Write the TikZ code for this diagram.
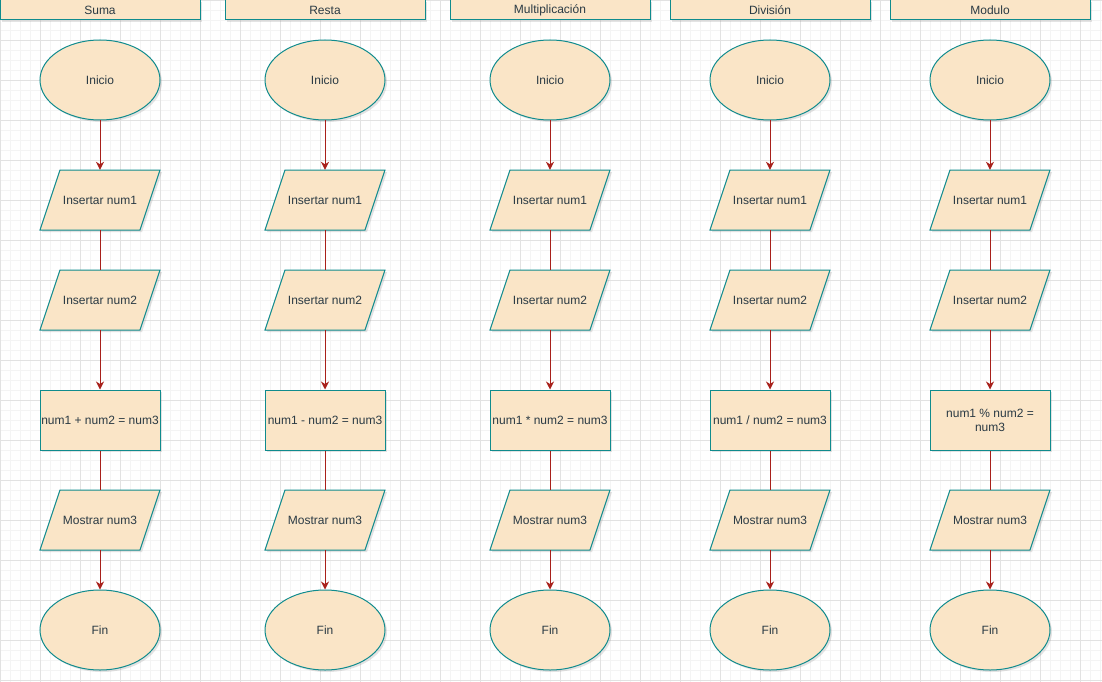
\documentclass[tikz,border=0pt]{standalone}
\usepackage{fontspec}
\setmainfont{Liberation Sans}
\usetikzlibrary{arrows.meta,shadows,shapes.geometric}
\definecolor{fillc}{HTML}{FAE5C7}
\definecolor{strokec}{HTML}{0F8B8D}
\definecolor{arrowc}{HTML}{A8201A}
\definecolor{textc}{HTML}{2A3A44}
\definecolor{gridminor}{HTML}{F4F4F4}
\definecolor{gridmajor}{HTML}{E2E2E2}
\tikzset{
  shapebase/.style={draw=strokec, fill=fillc, line width=1pt,
    drop shadow={shadow xshift=2pt, shadow yshift=-2pt, opacity=0.22, fill=gray}},
  txt/.style={text=textc, font=\fontsize{12}{14}\selectfont, inner sep=0pt, align=center},
  header/.style={shapebase, txt, rectangle, minimum width=200pt, minimum height=20pt},
  term/.style={shapebase, txt, ellipse, minimum width=120pt, minimum height=80pt},
  proc/.style={shapebase, txt, rectangle, minimum width=120pt, minimum height=60pt},
  iolabel/.style={txt, rectangle, minimum width=120pt, minimum height=60pt},
  link/.style={draw=arrowc, line width=1pt},
  arrow/.style={link, -{Stealth[length=8pt,width=8pt,inset=2.5pt]}}
}
\newcommand\ioshape[4]{%
  \path[shapebase] (#2-40,#3-30) -- (#2+60,#3-30) -- (#2+40,#3+30) -- (#2-60,#3+30) -- cycle;
  \node[iolabel] (#1) at (#2,#3) {#4};}
\begin{document}
\begin{tikzpicture}[x=1pt,y=-1pt]
\useasboundingbox (0,0) rectangle (1102,682);
\fill[white] (0,0) rectangle (1102,682);
\foreach \g in {0,10,...,1100} \draw[gridminor, line width=1pt] (\g+0.5,0) -- (\g+0.5,682);
\foreach \g in {0,10,...,680} \draw[gridminor, line width=1pt] (0,\g+0.5) -- (1102,\g+0.5);
\foreach \g in {0,40,...,1100} \draw[gridmajor, line width=1pt] (\g+0.5,0) -- (\g+0.5,682);
\foreach \g in {0,40,...,680} \draw[gridmajor, line width=1pt] (0,\g+0.5) -- (1102,\g+0.5);

\foreach \i/\cx/\head/\op in {1/100/{Suma}/{num1 + num2 = num3},
                              2/325/{Resta}/{num1 - num2 = num3},
                              3/550/{Multiplicación}/{num1 * num2 = num3},
                              4/770/{División}/{num1 / num2 = num3},
                              5/990/{Modulo}/{num1 \% num2 =\\ num3}}{
  \node[header] (h\i) at (\cx,10) {\head};
  \node[term] (ini\i) at (\cx,80) {Inicio};
  \ioshape{ina\i}{\cx}{200}{Insertar num1}
  \ioshape{inb\i}{\cx}{300}{Insertar num2}
  \node[proc] (op\i) at (\cx,420) {\op};
  \ioshape{out\i}{\cx}{520}{Mostrar num3}
  \node[term] (fin\i) at (\cx,630) {Fin};
  \draw[arrow] (ini\i.south) -- (ina\i.north);
  \draw[link] (ina\i.south) -- (inb\i.north);
  \draw[arrow] (inb\i.south) -- (op\i.north);
  \draw[link] (op\i.south) -- (out\i.north);
  \draw[arrow] (out\i.south) -- (fin\i.north);
}
\end{tikzpicture}
\end{document}
